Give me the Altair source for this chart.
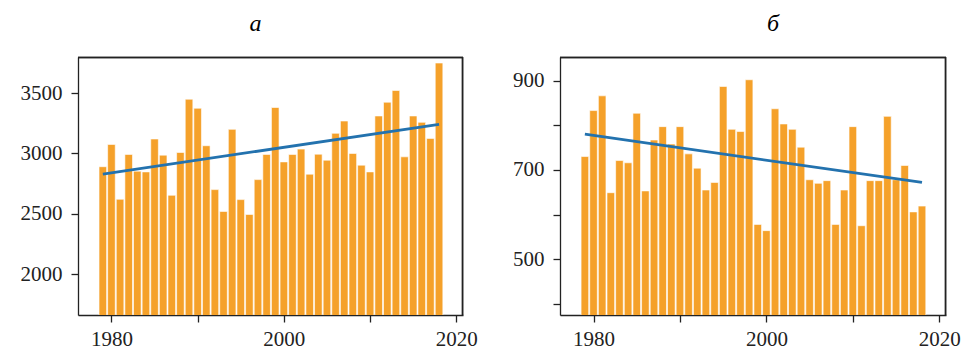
import altair as alt
import pandas as pd

years = list(range(1979, 2019))

values_a = [2890, 3075, 2620, 2992, 2853, 2847, 3120, 2986, 2653, 3008,
            3450, 3375, 3064, 2700, 2519, 3200, 2617, 2494, 2783, 2992,
            3381, 2930, 2992, 3036, 2828, 2994, 2944, 3167, 3269, 3000,
            2903, 2847, 3311, 3425, 3522, 2972, 3311, 3258, 3125, 3750]

values_b = [730, 833, 866, 649, 721, 716, 827, 653, 767, 797,
            758, 797, 736, 704, 655, 672, 887, 791, 786, 902,
            578, 564, 837, 803, 791, 751, 678, 670, 676, 578,
            655, 797, 575, 676, 676, 820, 678, 710, 606, 619]

trend_years = [1979, 2018]
trend_a = [2828, 3242]
trend_b = [780, 672]

titles = ["а", "б"]

FONT = "Liberation Serif"
BAR = "#F5A12A"
LINE = "#2372AE"
INK = "#222222"
HEIGHT = 258

AXIS_STYLE = dict(
    labelFont=FONT, labelFontSize=21, labelColor=INK,
    domainColor=INK, tickColor=INK, tickSize=7,
    domainWidth=1.3, tickWidth=1.3, title=None, grid=False,
)


def panel(vals, trend, ydomain, yvalues, ylabel_expr, title, dx, width):
    df = pd.DataFrame({"year": years, "value": vals})
    tdf = pd.DataFrame({"year": trend_years, "value": trend})
    x = alt.X(
        "year:Q",
        scale=alt.Scale(domain=[1976.7, 2020.2], nice=False, zero=False),
        axis=alt.Axis(values=[1980, 1990, 2000, 2010, 2020], format="d",
                      labelExpr="datum.value % 20 == 0 ? datum.label : ''",
                      labelPadding=6, **AXIS_STYLE),
    )
    y = alt.Y(
        "value:Q",
        scale=alt.Scale(domain=ydomain, nice=False, zero=False),
        axis=alt.Axis(values=yvalues, format="d", labelExpr=ylabel_expr,
                      labelPadding=9, **AXIS_STYLE),
    )
    bars = alt.Chart(df).mark_bar(
        color=BAR, width=7.6, stroke="white", strokeWidth=0.6, clip=True
    ).encode(x=x, y=y)
    line = alt.Chart(tdf).mark_line(color=LINE, strokeWidth=2.8, clip=True).encode(
        x="year:Q", y="value:Q"
    )
    top = alt.Chart(tdf).mark_rule(color=INK, strokeWidth=1.4).encode(
        x=alt.value(0), x2=alt.value(width), y=alt.value(0.5)
    )
    right = alt.Chart(tdf).mark_rule(color=INK, strokeWidth=1.4).encode(
        x=alt.value(width - 0.5), y=alt.value(0), y2=alt.value(HEIGHT)
    )
    return alt.layer(bars, line, top, right).properties(
        width=width, height=HEIGHT,
        title=alt.TitleParams(title, fontSize=24, font=FONT, fontStyle="italic",
                              fontWeight="normal", color="black", offset=20, dx=dx),
    )


pa = panel(values_a, trend_a, [1660, 3800], [2000, 2500, 3000, 3500],
           "datum.label", titles[0], -15, 385)
pb = panel(values_b, trend_b, [375, 953], [400, 500, 600, 700, 800, 900],
           "datum.value % 200 == 100 ? datum.label : ''", titles[1], 20, 386)

chart = alt.hconcat(pa, pb, spacing=97, bounds="flush").properties(
    padding={"left": 19, "top": 11, "right": 0, "bottom": 0},
    background="white",
)

chart.save("out.html", embed_options={"renderer": "svg", "actions": False})
